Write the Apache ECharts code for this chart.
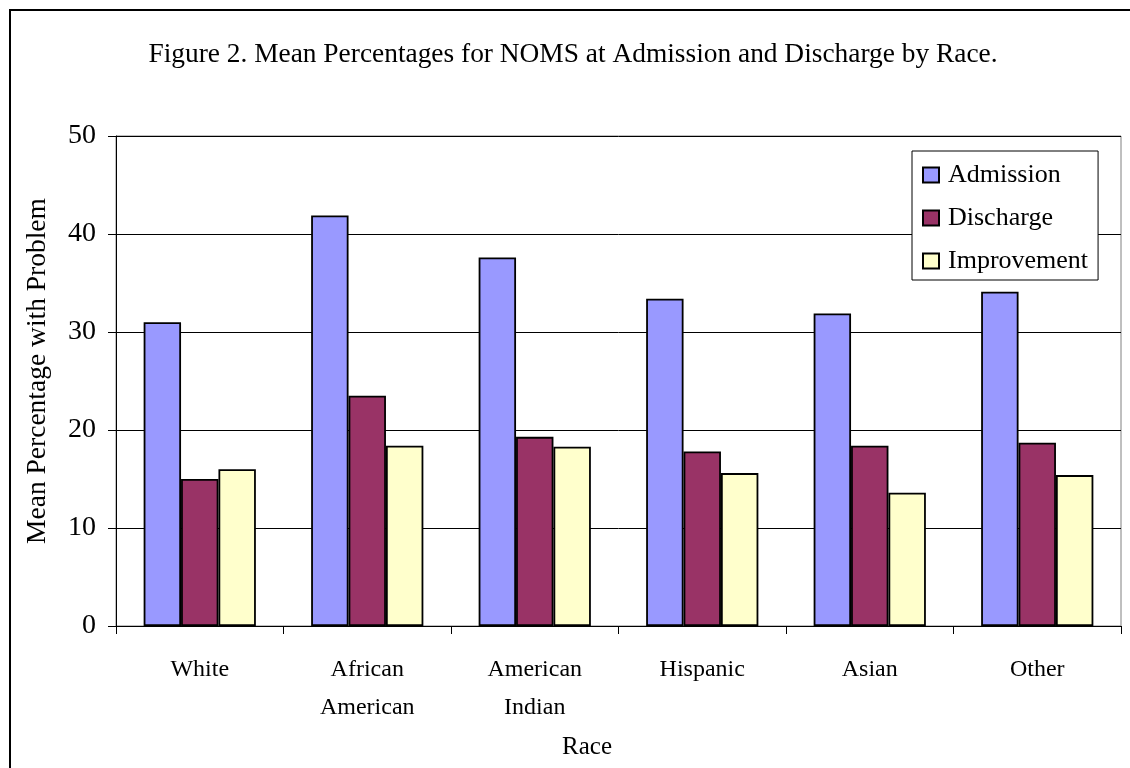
<!DOCTYPE html>
<html>
<head>
<meta charset="utf-8">
<script src="https://cdn.jsdelivr.net/npm/echarts@6/dist/echarts.min.js"></script>
<style>
html,body{margin:0;padding:0;background:#fff;}
#chart{width:1130px;height:768px;}
</style>
</head>
<body>
<div id="chart"></div>
<script>
const categories = ['White', 'African\nAmerican', 'American\nIndian', 'Hispanic', 'Asian', 'Other'];
const admission = [31.0, 41.9, 37.6, 33.4, 31.9, 34.1];
const discharge = [15.0, 23.5, 19.3, 17.8, 18.4, 18.7];
const improvement = [16.0, 18.4, 18.3, 15.6, 13.6, 15.4];
const yTicks = { min: 0, max: 50, interval: 10 };

const FONT = "'Liberation Serif', 'Times New Roman', serif";
const chart = echarts.init(document.getElementById('chart'));
const barStyle = (c) => ({ color: c, borderColor: '#000', borderWidth: 1.8 });

chart.setOption({
  backgroundColor: '#fff',
  animation: false,
  title: {
    text: 'Figure 2. Mean Percentages for NOMS at Admission and Discharge by Race.',
    left: 568, top: 36, textAlign: 'center',
    textStyle: { fontFamily: FONT, fontSize: 27.4, fontWeight: 'normal', color: '#000' }
  },
  legend: {
    orient: 'vertical', left: 912, top: 151,
    padding: [11, 10, 6, 10],
    itemGap: 17, itemWidth: 16, itemHeight: 15,
    backgroundColor: '#fff', borderColor: '#000', borderWidth: 1,
    icon: 'rect',
    textStyle: { fontFamily: FONT, fontSize: 26, color: '#000', padding: [0, 0, 0, 4] },
    data: ['Admission', 'Discharge', 'Improvement']
  },
  grid: {
    left: 116, right: 9, top: 136, bottom: 142,
    show: true, borderColor: '#808080', borderWidth: 1, backgroundColor: 'transparent'
  },
  xAxis: {
    type: 'category', data: categories,
    axisLine: { lineStyle: { color: '#000', width: 1 } },
    axisTick: { show: true, length: 8, lineStyle: { color: '#000' } },
    axisLabel: { fontFamily: FONT, fontSize: 24, color: '#000', lineHeight: 38, margin: 25, interval: 0 }
  },
  yAxis: {
    type: 'value', min: yTicks.min, max: yTicks.max, interval: yTicks.interval,
    axisLine: { show: true, lineStyle: { color: '#000', width: 1 } },
    axisTick: { show: true, length: 8, lineStyle: { color: '#000' } },
    axisLabel: { fontFamily: FONT, fontSize: 28, color: '#000', margin: 20 },
    splitLine: { lineStyle: { color: '#000', width: 1 } }
  },
  graphic: [
    { type: 'rect', shape: { x: 10, y: 10, width: 1200, height: 800 },
      style: { fill: null, stroke: '#000', lineWidth: 2 }, silent: true, z: 100 },
    { type: 'text', x: 38, y: 371, rotation: Math.PI / 2,
      style: { text: 'Mean Percentage with Problem', fontFamily: FONT, fontSize: 27.5, fill: '#000',
               textAlign: 'center', textVerticalAlign: 'middle' } },
    { type: 'text', x: 587, y: 747,
      style: { text: 'Race', fontFamily: FONT, fontSize: 25, fill: '#000',
               textAlign: 'center', textVerticalAlign: 'middle' } }
  ],
  series: [
    { name: 'Admission', type: 'bar', data: admission, itemStyle: barStyle('#9999FF'),
      barGap: '0%', barCategoryGap: '33%' },
    { name: 'Discharge', type: 'bar', data: discharge, itemStyle: barStyle('#993366') },
    { name: 'Improvement', type: 'bar', data: improvement, itemStyle: barStyle('#FFFFCC') }
  ]
});
</script>
</body>
</html>
